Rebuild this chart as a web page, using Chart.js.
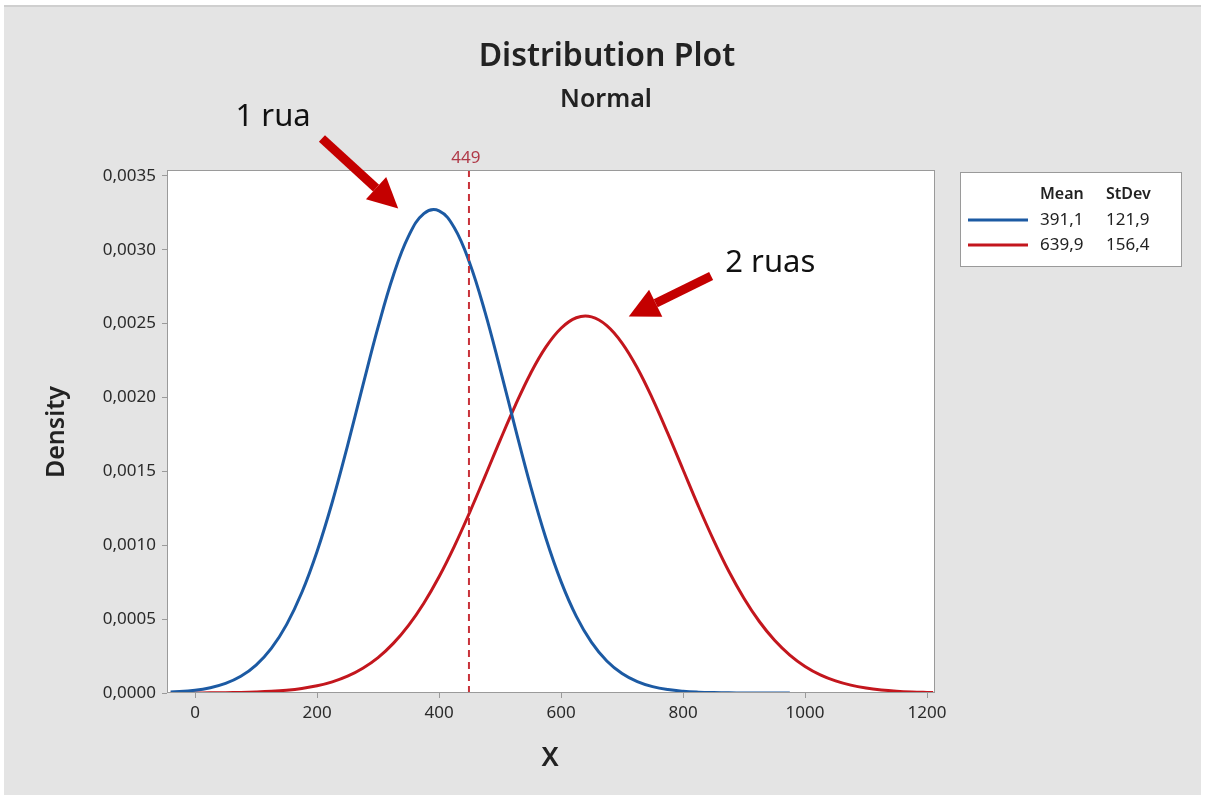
<!DOCTYPE html>
<html>
<head>
<meta charset="utf-8">
<script src="https://cdn.jsdelivr.net/npm/chart.js@4.4.1/dist/chart.umd.min.js"></script>
<style>
  html,body{margin:0;padding:0;background:#fff;}
  #wrap{position:relative;width:1207px;height:798px;}
</style>
</head>
<body>
<div id="wrap"><canvas id="distChart" width="1207" height="798"></canvas></div>
<script>
// x grid shared by both curves
const xValues = [-40,0,25,50,75,100,125,150,175,200,225,250,275,300,325,350,375,400,425,450,475,500,525,550,575,600,625,650,675,700,725,750,775,800,825,850,875,900,925,950,975,1000,1025,1050,1075,1100,1125,1150,1175,1200,1210];
// 1 rua (blue) density; curve stops near 975
const density1Rua = [0.0000063,0.000019,0.000036,0.000065,0.000113,0.000189,0.000302,0.000463,0.00068,0.000958,0.001293,0.001675,0.00208,0.002476,0.002826,0.003092,0.003245,0.003264,0.003149,0.002912,0.002583,0.002196,0.001791,0.0014,0.001049,0.000754,0.000519,0.000343,0.000217,0.000132,0.000077,0.000043,0.000023,0.0000118,0.0000058,0.0000027,0.0000012,0.0000005,0.0000002,0.0000001,0.0,null,null,null,null,null,null,null,null,null,null];
// 2 ruas (red) density
const density2Ruas = [0.0000002,0.0000006,0.0000011,0.0000021,0.0000037,0.0000066,0.0000113,0.0000189,0.0000308,0.0000488,0.0000756,0.000114,0.000168,0.00024,0.000336,0.000458,0.000608,0.000787,0.000993,0.001221,0.001463,0.00171,0.001947,0.002163,0.002341,0.002469,0.00254,0.002546,0.002487,0.002369,0.0022,0.001991,0.001757,0.001511,0.001266,0.001035,0.000824,0.00064,0.000484,0.000357,0.000257,0.00018,0.000123,0.000082,0.0000532,0.0000337,0.0000208,0.0000125,0.0000073,0.0000042,0.0000034];
const seriesNames = ['1 rua','2 ruas'];
const seriesMeans = ['391,1','639,9'];
const seriesStDevs = ['121,9','156,4'];
const refLine = 449;
const xTicks = [0,200,400,600,800,1000,1200];
const yTicks = [0,0.0005,0.001,0.0015,0.002,0.0025,0.003,0.0035];

const BLUE='#1c5aa3', RED='#c3161d';
const FONT="'Noto Sans', 'Open Sans', sans-serif";

function pts(ys){ return xValues.map((x,i)=>({x:x,y:ys[i]})); }

function arrow(ctx,x1,y1,x2,y2){
  const a=Math.atan2(y2-y1,x2-x1), hl=30, hw=15;
  const bx=x2-hl*Math.cos(a), by=y2-hl*Math.sin(a);
  ctx.save();
  ctx.strokeStyle='#c40000';ctx.fillStyle='#c40000';ctx.lineWidth=9;ctx.lineCap='butt';
  ctx.beginPath();ctx.moveTo(x1,y1);ctx.lineTo(bx,by);ctx.stroke();
  ctx.beginPath();ctx.moveTo(x2,y2);
  ctx.lineTo(bx+hw*Math.sin(a),by-hw*Math.cos(a));
  ctx.lineTo(bx-hw*Math.sin(a),by+hw*Math.cos(a));
  ctx.closePath();ctx.fill();
  ctx.restore();
}

const decor={
  id:'decor',
  beforeDraw(chart){
    const ctx=chart.ctx, a=chart.chartArea;
    ctx.save();
    ctx.fillStyle='#fff';ctx.fillRect(0,0,chart.width,chart.height);
    ctx.fillStyle='#e4e4e4';ctx.fillRect(4,5,1197,790);
    ctx.fillStyle='#cfcfcf';ctx.fillRect(4,5,1197,2);
    ctx.fillStyle='#fff';ctx.fillRect(a.left,a.top,a.right-a.left,a.bottom-a.top);
    ctx.restore();
  },
  afterDatasetsDraw(chart){
    const ctx=chart.ctx, a=chart.chartArea, xs=chart.scales.x, ys=chart.scales.y;
    ctx.save();
    // reference line
    const px=xs.getPixelForValue(refLine);
    ctx.strokeStyle='#c8323a';ctx.lineWidth=2;ctx.setLineDash([7,5]);
    ctx.beginPath();ctx.moveTo(px,a.top);ctx.lineTo(px,a.bottom);ctx.stroke();
    ctx.setLineDash([]);
    ctx.fillStyle='#b03a48';ctx.font='17px '+FONT;ctx.textAlign='center';ctx.textBaseline='alphabetic';
    ctx.fillText(String(refLine),px-3,a.top-7);
    // frame
    ctx.strokeStyle='#9a9a9a';ctx.lineWidth=1;
    ctx.strokeRect(a.left+0.5,a.top+0.5,a.right-a.left-1,a.bottom-a.top-1);
    // titles
    ctx.fillStyle='#222';
    ctx.font='600 32px '+FONT;ctx.textBaseline='middle';
    ctx.fillText('Distribution Plot',607,57);
    ctx.font='600 25px '+FONT;
    ctx.fillText('Normal',606,100);
    ctx.font='600 27px '+FONT;
    ctx.fillText('X',550,758);
    ctx.font='600 25px '+FONT;
    ctx.save();ctx.translate(57,432);ctx.rotate(-Math.PI/2);ctx.fillText('Density',0,0);ctx.restore();
    // annotations with arrows
    ctx.fillStyle='#111';ctx.font='31px '+FONT;
    ctx.fillText(seriesNames[0],xs.getPixelForValue(128),ys.getPixelForValue(0.003897));
    ctx.fillText(seriesNames[1],xs.getPixelForValue(943),ys.getPixelForValue(0.002911));
    arrow(ctx,xs.getPixelForValue(208),ys.getPixelForValue(0.003753),xs.getPixelForValue(333),ys.getPixelForValue(0.00328));
    arrow(ctx,xs.getPixelForValue(846),ys.getPixelForValue(0.002822),xs.getPixelForValue(711),ys.getPixelForValue(0.002548));
    // legend box
    ctx.fillStyle='#fff';ctx.fillRect(960,172,222,95);
    ctx.strokeStyle='#9a9a9a';ctx.strokeRect(960.5,172.5,221,94);
    ctx.fillStyle='#222';ctx.textAlign='left';
    ctx.font='600 16px '+FONT;
    ctx.fillText('Mean',1040,194);ctx.fillText('StDev',1106,194);
    ctx.font='17px '+FONT;
    [BLUE,RED].forEach((c,i)=>{
      const y=220+i*25;
      ctx.strokeStyle=c;ctx.lineWidth=3;
      ctx.beginPath();ctx.moveTo(968,y);ctx.lineTo(1028,y);ctx.stroke();
      ctx.fillText(seriesMeans[i],1040,y);ctx.fillText(seriesStDevs[i],1106,y);
    });
    ctx.restore();
  }
};

const tickFont={family:FONT,size:17};
new Chart(document.getElementById('distChart').getContext('2d'),{
  type:'line',
  data:{datasets:[
    {label:seriesNames[0],data:pts(density1Rua),borderColor:BLUE,borderWidth:3,pointRadius:0,tension:0.4,spanGaps:false},
    {label:seriesNames[1],data:pts(density2Ruas),borderColor:RED,borderWidth:3,pointRadius:0,tension:0.4}
  ]},
  options:{
    responsive:false,animation:false,
    layout:{padding:{left:0,top:170,right:272,bottom:0}},
    plugins:{legend:{display:false},tooltip:{enabled:false}},
    scales:{
      x:{type:'linear',min:-46,max:1213,
        afterBuildTicks(s){s.ticks=xTicks.map(v=>({value:v}));},
        afterFit(s){s.height=105;},
        grid:{display:true,drawOnChartArea:false,drawTicks:true,tickLength:5,color:'#9a9a9a'},
        border:{display:false},
        ticks:{font:tickFont,color:'#2a2a2a',padding:5,maxRotation:0,callback:v=>String(v)}},
      y:{min:0,max:0.00354,
        afterBuildTicks(s){s.ticks=yTicks.map(v=>({value:v}));},
        afterFit(s){s.width=167;},
        grid:{display:true,drawOnChartArea:false,drawTicks:true,tickLength:5,color:'#9a9a9a'},
        border:{display:false},
        ticks:{font:tickFont,color:'#2a2a2a',padding:6,callback:v=>v.toFixed(4).replace('.',',')}}
    }
  },
  plugins:[decor]
});
</script>
</body>
</html>
